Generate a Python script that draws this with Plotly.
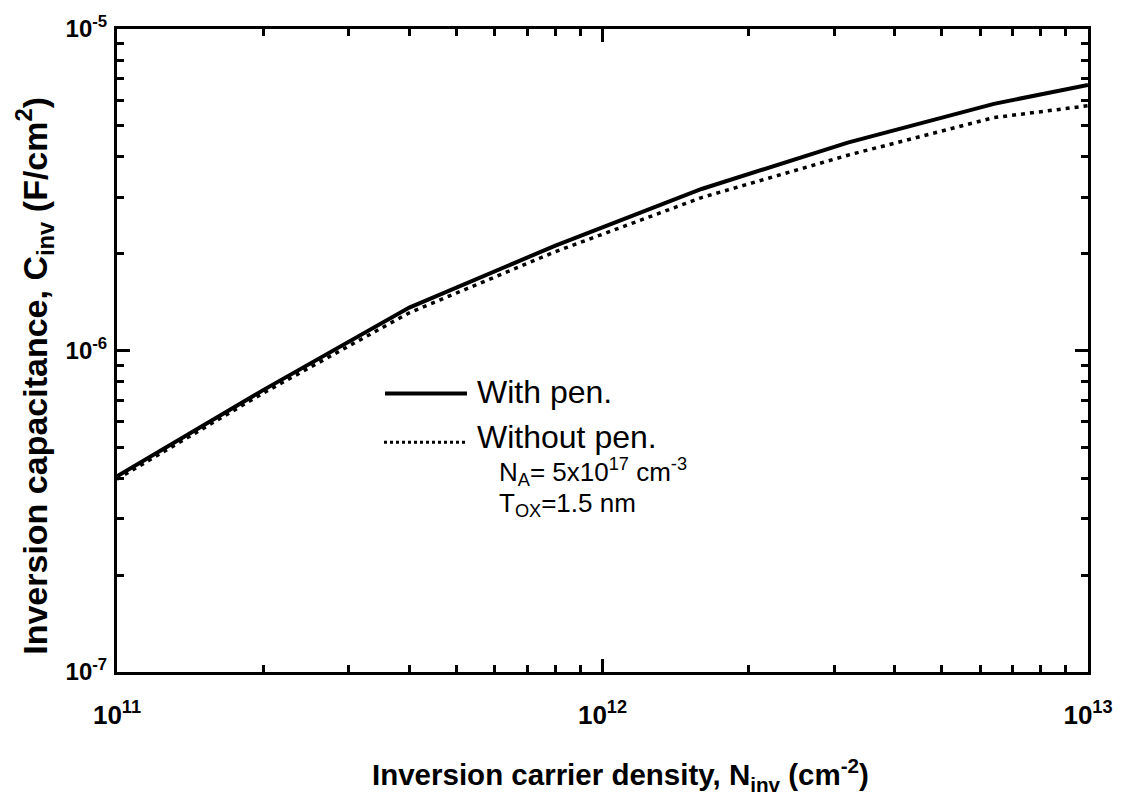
import plotly.graph_objects as go

# Inversion carrier density (cm^-2)
n_inv = [1e11, 2e11, 4e11, 8e11, 1.6e12, 3.2e12, 6.4e12, 1e13]
# Inversion capacitance (F/cm^2)
c_with_pen = [4.06e-7, 7.53e-7, 1.36e-6, 2.12e-6, 3.18e-6, 4.43e-6, 5.85e-6, 6.70e-6]
c_without_pen = [3.98e-7, 7.37e-7, 1.31e-6, 2.03e-6, 2.99e-6, 4.05e-6, 5.30e-6, 5.77e-6]

x_major = [1e11, 1e12, 1e13]
x_major_text = ["10<sup>11</sup>", "10<sup>12</sup>", "10<sup>13</sup>"]
y_major = [1e-7, 1e-6, 1e-5]
y_major_text = ["10<sup>-7</sup>", "10<sup>-6</sup>", "10<sup>-5</sup>"]
x_minor = [m * d for d in (1e11, 1e12) for m in range(2, 10)]
y_minor = [m * d for d in (1e-7, 1e-6) for m in range(2, 10)]

FONT = "Liberation Sans, Arial, sans-serif"
BLACK = "#000000"

fig = go.Figure()

fig.add_trace(go.Scatter(x=n_inv, y=c_with_pen, mode="lines", name="With pen.",
                         line=dict(color=BLACK, width=4), showlegend=False))
fig.add_trace(go.Scatter(x=n_inv, y=c_without_pen, mode="lines", name="Without pen.",
                         line=dict(color=BLACK, width=3.5, dash="4px,5px"), showlegend=False))
# carrier for the minor-tick axes
fig.add_trace(go.Scatter(x=[], y=[], xaxis="x2", yaxis="y2", showlegend=False,
                         hoverinfo="skip"))

axis_common = dict(type="log", showgrid=False, zeroline=False, showline=True,
                   linecolor=BLACK, linewidth=3, mirror="ticks", ticks="inside",
                   tickcolor=BLACK, tickwidth=2.5)

fig.update_layout(
    width=1134, height=804,
    margin=dict(l=117, r=46, t=23, b=132),
    paper_bgcolor="white", plot_bgcolor="white",
    font=dict(family=FONT, color=BLACK),
    xaxis=dict(**axis_common, range=[11, 13], tickvals=x_major,
               ticktext=[f"<b>{t}</b>" for t in x_major_text], ticklen=13,
               tickfont=dict(size=26, family=FONT, color=BLACK), ticklabelstandoff=18),
    yaxis=dict(**axis_common, range=[-7, -5], tickvals=y_major,
               ticktext=[f"<b>{t}</b>" for t in y_major_text], ticklen=13,
               tickfont=dict(size=24, family=FONT, color=BLACK), ticklabelstandoff=2),
    xaxis2=dict(**axis_common, range=[11, 13], overlaying="x", anchor="y2", side="bottom",
                tickvals=x_minor, showticklabels=False, ticklen=7),
    yaxis2=dict(**axis_common, range=[-7, -5], overlaying="y", anchor="x2", side="left",
                tickvals=y_minor, showticklabels=False, ticklen=7),
)

# legend keys
fig.add_shape(type="line", xref="paper", yref="paper",
              x0=(385 - 117) / 971, x1=(467 - 117) / 971,
              y0=(672 - 391) / 649, y1=(672 - 391) / 649,
              line=dict(color=BLACK, width=4))
fig.add_shape(type="line", xref="paper", yref="paper",
              x0=(384 - 117) / 971, x1=(467 - 117) / 971,
              y0=(672 - 440) / 649, y1=(672 - 440) / 649,
              line=dict(color=BLACK, width=3, dash="3px,3px"))

def note(text, x, y, size, xanchor="left", bold=False, angle=0):
    fig.add_annotation(text=f"<b>{text}</b>" if bold else text,
                       xref="paper", yref="paper",
                       x=(x - 117) / 971, y=(672 - y) / 649,
                       xanchor=xanchor, yanchor="middle", showarrow=False,
                       textangle=angle, font=dict(size=size, family=FONT, color=BLACK))

note("With pen.", 475, 389, 32)
note("Without pen.", 475, 435, 32)
note("N<sub>A</sub>= 5x10<sup>17</sup> cm<sup>-3</sup>", 497, 470, 26)
note("T<sub>OX</sub>=1.5 nm", 497, 503, 26)

note("Inversion carrier density, N<sub>inv</sub> (cm<sup>-2</sup>)", 620, 776, 29.5,
     xanchor="center", bold=True)
note("Inversion capacitance, C<sub>inv</sub> (F/cm<sup>2</sup>)", 34, 373, 34,
     xanchor="center", bold=True, angle=-90)

fig.write_html("out.html")
